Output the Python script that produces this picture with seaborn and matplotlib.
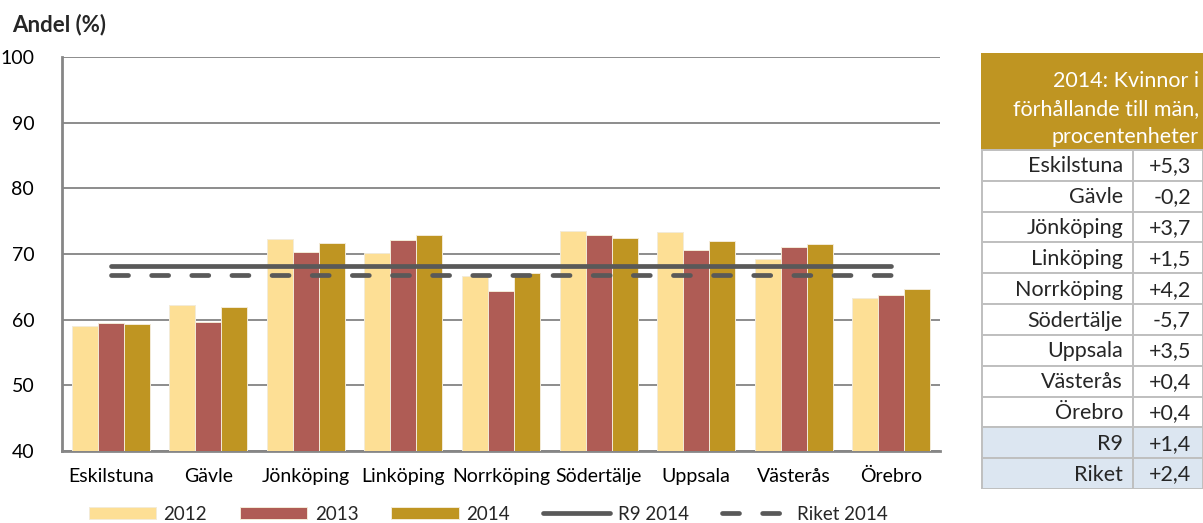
import numpy as np
import pandas as pd
import matplotlib
matplotlib.use("Agg")
import matplotlib.pyplot as plt
from matplotlib.patches import Rectangle
import seaborn as sb

CITIES = ["Eskilstuna", "Gävle", "Jönköping", "Linköping", "Norrköping",
          "Södertälje", "Uppsala", "Västerås", "Örebro"]
YEARS = ["2012", "2013", "2014"]
V2012 = [59.1, 62.2, 72.3, 70.2, 66.7, 73.5, 73.4, 69.2, 63.3]
V2013 = [59.5, 59.6, 70.3, 72.2, 64.3, 72.9, 70.6, 71.1, 63.8]
V2014 = [59.3, 61.9, 71.7, 72.9, 67.1, 72.4, 72.0, 71.5, 64.6]
R9_2014 = 68.2
RIKET_2014 = 66.8

TABLE_TITLE = "2014: Kvinnor i\nförhållande till män,\nprocentenheter"
TABLE_NAMES = CITIES + ["R9", "Riket"]
TABLE_VALUES = ["+5,3", "-0,2", "+3,7", "+1,5", "+4,2", "-5,7",
                "+3,5", "+0,4", "+0,4", "+1,4", "+2,4"]

COLORS = ["#FDDF95", "#AF5C55", "#BF9522"]
LINE_C = "#595959"

sb.set_style("white")
plt.rcParams["font.family"] = ["Lato", "DejaVu Sans"]

df = pd.DataFrame({"stad": CITIES * 3,
                   "år": sum([[y] * len(CITIES) for y in YEARS], []),
                   "andel": V2012 + V2013 + V2014})

fig = plt.figure(figsize=(12.03, 5.23), dpi=100)
W, H = 1203, 523
ax = fig.add_axes([62 / W, 72 / H, 878 / W, 394 / H])

sb.barplot(data=df, x="stad", y="andel", hue="år", palette=COLORS, saturation=1,
           width=0.8, edgecolor="#F3EBD8", linewidth=0.7, ax=ax, zorder=3)
ax.plot([CITIES[0], CITIES[-1]], [R9_2014] * 2, color=LINE_C, lw=3.4,
        solid_capstyle="round", label="R9 2014", zorder=4)
ax.plot([CITIES[0], CITIES[-1]], [RIKET_2014] * 2, color=LINE_C, lw=3.4,
        dashes=(3.6, 4.9), dash_capstyle="round", label="Riket 2014", zorder=4)

ax.set_ylim(40, 100)
ax.set_xlim(-0.5, 8.5)
ax.set_yticks(range(40, 101, 10))
ax.yaxis.grid(True, color="#8C8C8C", lw=1.4, zorder=0)
ax.set_xlabel("")
ax.set_ylabel("")
for s in ["top", "right"]:
    ax.spines[s].set_visible(False)
for s in ["left", "bottom"]:
    ax.spines[s].set_color("#868686")
    ax.spines[s].set_linewidth(2)
ax.tick_params(axis="both", length=0, labelsize=14, colors="black")
ax.tick_params(axis="y", pad=20)
ax.tick_params(axis="x", pad=12)

handles, labels = ax.get_legend_handles_labels()
ax.legend_.remove()
fig.legend(handles, labels, ncol=5, loc="center", bbox_to_anchor=(488 / W, 1 - 514 / H),
           frameon=False, fontsize=13.5, handlelength=3.6, handletextpad=0.4,
           columnspacing=1.75, handleheight=0.6)

fig.text(12 / W, 1 - 25 / H, "Andel (%)", fontsize=16, fontweight="bold", va="center")

# side table
tx0, ty0, ty1 = 981, 53, 489
tab = fig.add_axes([tx0 / W, 1 - ty1 / H, (W - tx0) / W, (ty1 - ty0) / H])
tab.set_xlim(0, W - tx0)
tab.set_ylim(ty1, ty0)
tab.axis("off")
head_b = 150
tab.add_patch(Rectangle((0, ty0), W - tx0, head_b - ty0, color="#BF9522", lw=0))
for i, line in enumerate(TABLE_TITLE.split("\n")):
    tab.text(W - tx0 - 4, 81 + 28 * i, line, ha="right", va="center",
             color="white", fontsize=15.5)
rh = (ty1 - head_b) / len(TABLE_NAMES)
div = 1133 - tx0
for i, (name, val) in enumerate(zip(TABLE_NAMES, TABLE_VALUES)):
    y0 = head_b + i * rh
    fc = "#DCE6F1" if name in ("R9", "Riket") else "white"
    tab.add_patch(Rectangle((1, y0), W - tx0 - 1, rh, facecolor=fc,
                            edgecolor="#BFBFBF", lw=1.4))
    tab.plot([div, div], [y0, y0 + rh], color="#BFBFBF", lw=1.4)
    tab.text(div - 10, y0 + rh / 2 + 1, name, ha="right", va="center", fontsize=15.5)
    tab.text(W - tx0 - 12, y0 + rh / 2 + 1, val, ha="right", va="center", fontsize=15.5)

fig.savefig("out.png", dpi=100)
